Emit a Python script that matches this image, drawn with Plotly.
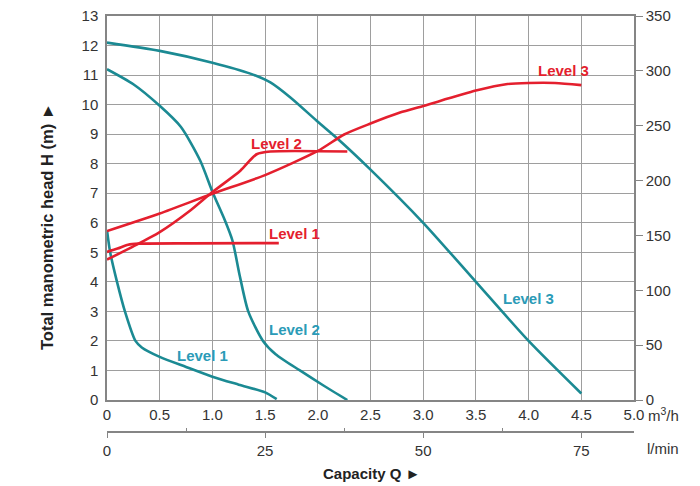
import plotly.graph_objects as go

# ---------------- data ----------------
# Head curves (m) vs capacity (m3/h)
head1_q = [0, 0.03, 0.095, 0.17, 0.27, 0.33, 0.5, 0.75, 1.0, 1.25, 1.5, 1.61]
head1_h = [5.75, 5.0, 4.0, 3.0, 2.0, 1.78, 1.46, 1.12, 0.79, 0.52, 0.26, 0.03]

head2_q = [0, 0.25, 0.5, 0.7, 0.885, 1.0, 1.12, 1.19, 1.26, 1.34, 1.48, 1.6, 1.83, 2.05, 2.28]
head2_h = [11.2, 10.69, 9.96, 9.25, 8.1, 7.05, 6.07, 5.4, 4.2, 3.0, 2.0, 1.55, 1.0, 0.5, 0.0]

head3_q = [0, 0.5, 1.0, 1.36, 1.55, 1.74, 2.0, 2.18, 2.5, 3.0, 3.5, 4.0, 4.5]
head3_h = [12.1, 11.82, 11.42, 11.05, 10.75, 10.24, 9.42, 8.87, 7.8, 6.0, 4.0, 2.0, 0.22]

# Power curves (W, right axis) vs capacity (m3/h)
power1_q = [0, 0.1, 0.2, 0.3, 0.8, 1.63]
power1_w = [135, 138, 141.5, 142.5, 142.8, 143]

power2_q = [0, 0.25, 0.5, 0.79, 1.0, 1.265, 1.42, 1.55, 2.28]
power2_w = [128, 140, 153, 172.7, 189.5, 209, 224, 226.5, 226.5]

power3_q = [0, 0.5, 1.0, 1.5, 2.0, 2.25, 2.5, 2.78, 3.0, 3.5, 3.8, 4.0, 4.25, 4.5]
power3_w = [154, 170, 188, 205, 227, 242, 252, 262, 268, 282, 288, 289, 289, 287]

x_ticks = [0, 0.5, 1.0, 1.5, 2.0, 2.5, 3.0, 3.5, 4.0, 4.5, 5.0]
x_ticklabels = ["0", "0.5", "1.0", "1.5", "2.0", "2.5", "3.0", "3.5", "4.0", "4.5", "5.0"]
lmin_ticks = [0, 25, 50, 75]

TEAL = "#1b8a93"
TEAL_TXT = "#2b9bb7"
RED = "#e41f2e"
FONT = "Liberation Sans, Arial, sans-serif"
TICKC = "#333333"

fig = go.Figure()

for q, h in [(head1_q, head1_h), (head2_q, head2_h), (head3_q, head3_h)]:
    fig.add_trace(go.Scatter(x=q, y=h, mode="lines", xaxis="x", yaxis="y",
                             line=dict(color=TEAL, width=2.6, shape="spline", smoothing=0.7),
                             hoverinfo="skip", showlegend=False))

for q, w in [(power1_q, power1_w), (power2_q, power2_w), (power3_q, power3_w)]:
    fig.add_trace(go.Scatter(x=q, y=w, mode="lines", xaxis="x", yaxis="y2",
                             line=dict(color=RED, width=2.6, shape="spline", smoothing=0.7),
                             hoverinfo="skip", showlegend=False))

# invisible trace for the l/min axis
fig.add_trace(go.Scatter(x=[0, 83.333], y=[None, None], xaxis="x3", yaxis="y",
                         mode="lines", showlegend=False, hoverinfo="skip"))

# screen geometry (px, page has an 8px body margin)
# plot area: left 107, right 634, top ~16, bottom ~400
M_L, M_R, M_T, M_B = 99, 74, 8, 40
H_TOT = 486 - M_T - M_B          # 438
y_dom0 = (454 - 400) / H_TOT

def py(p):
    return (454 - p) / H_TOT

def px(p):
    return (p - 107) / 527

grid = "#9e9e9e"
axline = "#858585"

fig.update_layout(
    width=700, height=486,
    margin=dict(l=M_L, r=M_R, t=M_T, b=M_B),
    paper_bgcolor="white", plot_bgcolor="white",
    font=dict(family=FONT, size=15, color=TICKC),
    xaxis=dict(range=[0, 5], tickvals=x_ticks, ticktext=x_ticklabels,
               showgrid=True, gridcolor=grid, gridwidth=1.2,
               showline=True, linecolor=axline, linewidth=1.5, mirror=True,
               ticks="", zeroline=False, anchor="y", fixedrange=True, automargin=False,
               ticklabeloverflow="allow",
               tickfont=dict(size=15, color=TICKC)),
    yaxis=dict(range=[0, 13], dtick=1, domain=[y_dom0, 1],
               showgrid=True, gridcolor=grid, gridwidth=1.2,
               showline=True, linecolor=axline, linewidth=1.5,
               ticks="outside", ticklen=4, tickcolor="white",
               zeroline=False, fixedrange=True, automargin=False,
               ticklabeloverflow="allow",
               tickfont=dict(size=15, color=TICKC)),
    yaxis2=dict(range=[0, 350], dtick=50, overlaying="y", side="right", anchor="x",
                showgrid=False, showline=True, linecolor=axline, linewidth=1.5,
                ticks="outside", ticklen=7, tickcolor=axline,
                zeroline=False, fixedrange=True, automargin=False,
                ticklabeloverflow="allow",
                tickfont=dict(size=15, color=TICKC)),
    xaxis3=dict(range=[0, 83.333], overlaying="x", anchor="free", position=py(432),
                side="bottom", tickvals=lmin_ticks, showgrid=False,
                showline=True, linecolor=axline, linewidth=1.5,
                ticks="outside", ticklen=5, tickcolor=axline,
                minor=dict(ticks="inside", ticklen=3, tick0=12.5, dtick=25, tickcolor=axline),
                zeroline=False, fixedrange=True, automargin=False,
                ticklabeloverflow="allow",
                tickfont=dict(size=15, color=TICKC)),
)

ann = []
# curve labels
def lab(text, x, y, yref, color):
    ann.append(dict(text="<b>%s</b>" % text, x=x, y=y, xref="x", yref=yref,
                    xanchor="center", yanchor="middle",
                    showarrow=False, font=dict(family=FONT, size=15, color=color)))

lab("Level 3", 4.33, 300, "y2", RED)
lab("Level 2", 1.61, 233.5, "y2", RED)
lab("Level 1", 1.78, 151.8, "y2", RED)
lab("Level 3", 4.0, 3.44, "y", TEAL_TXT)
lab("Level 2", 1.78, 2.4, "y", TEAL_TXT)
lab("Level 1", 0.91, 1.52, "y", TEAL_TXT)

def pann(text, sx, sy, size=15, color=TICKC, angle=0):
    ann.append(dict(text=text, x=px(sx), y=py(sy), xref="paper", yref="paper",
                    xanchor="center", yanchor="middle", textangle=angle,
                    showarrow=False, font=dict(family=FONT, size=size, color=color)))

pann("m<sup>3</sup>/h", 663, 414)
pann("l/min", 663, 448)
pann("<b>Capacity Q ►</b>", 371, 474, size=15, color="#222222")
pann("<b>Total manometric head H (m) ►</b>", 47, 227, size=16.5, color="#222222", angle=-90)

fig.update_layout(annotations=ann)

fig.write_html("out.html")
